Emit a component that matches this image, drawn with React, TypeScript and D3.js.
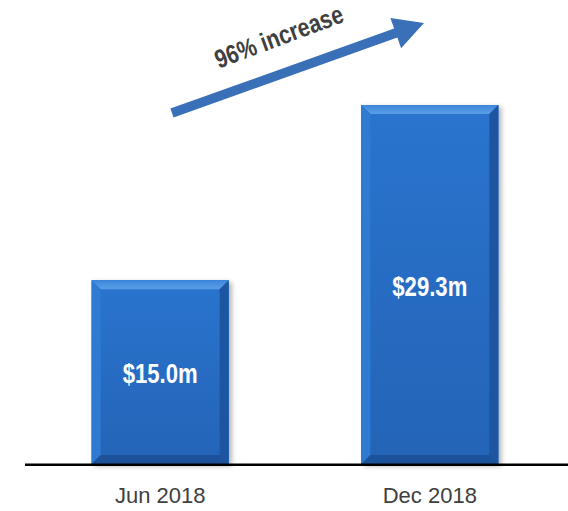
import React from "react";
import * as d3 from "d3";

// Period labels and values (in $m)
const categories = ["Jun 2018", "Dec 2018"];
const values = [15.0, 29.3];
const valueLabels = ["$15.0m", "$29.3m"];
const growthLabel = "96% increase";

const W = 568;
const H = 511;
const baseline = 464;
const FONT = "'Liberation Sans', Arial, sans-serif";

export default function App() {
  const x = d3
    .scaleBand<string>()
    .domain(categories)
    .range([24, 566])
    .paddingInner(0.49)
    .paddingOuter(0.25);

  const barW = 137;
  const centerOf = (c: string) => (x(c) as number) + x.bandwidth() / 2;

  const y = d3.scaleLinear().domain([0, 32]).range([baseline, baseline - 392]);

  const bevel = 9;

  // growth arrow geometry
  const ax0 = 172, ay0 = 113, ax1 = 424, ay1 = 23;
  const ang = Math.atan2(ay1 - ay0, ax1 - ax0);
  const len = Math.hypot(ax1 - ax0, ay1 - ay0);
  const shaft = 9.5;
  const headLen = 30;
  const headHalf = 16;

  return (
    <svg width={W} height={H} style={{ position: "absolute", left: 0, top: 0 }}>
      <defs>
        <linearGradient id="face" x1="0" y1="0" x2="0" y2="1">
          <stop offset="0" stopColor="#2a74cf" />
          <stop offset="1" stopColor="#2364b6" />
        </linearGradient>
        <linearGradient id="topBevel" x1="0" y1="0" x2="0" y2="1">
          <stop offset="0" stopColor="#3d87dc" />
          <stop offset="1" stopColor="#5a9ee6" />
        </linearGradient>
        <filter id="shadow" x="-10%" y="-10%" width="130%" height="130%">
          <feDropShadow dx="3" dy="2" stdDeviation="2.5" floodColor="#000" floodOpacity="0.3" />
        </filter>
      </defs>

      {values.map((v, i) => {
        const cx = centerOf(categories[i]);
        const x0 = cx - barW / 2;
        const x1 = cx + barW / 2;
        const y0 = y(v);
        const y1 = y(0);
        return (
          <g key={categories[i]}>
            <rect x={x0} y={y0} width={barW} height={y1 - y0} fill="#2468bd" filter="url(#shadow)" />
            <rect x={x0} y={y0} width={barW} height={y1 - y0} fill="url(#face)" />
            {/* top bevel */}
            <polygon
              points={`${x0},${y0} ${x1},${y0} ${x1 - bevel},${y0 + bevel} ${x0 + bevel},${y0 + bevel}`}
              fill="url(#topBevel)"
            />
            {/* left bevel */}
            <polygon
              points={`${x0},${y0} ${x0 + bevel},${y0 + bevel} ${x0 + bevel},${y1 - bevel} ${x0},${y1}`}
              fill="#2f7ad3"
            />
            {/* right bevel */}
            <polygon
              points={`${x1},${y0} ${x1},${y1} ${x1 - bevel},${y1 - bevel} ${x1 - bevel},${y0 + bevel}`}
              fill="#1d55a0"
            />
            {/* bottom bevel */}
            <polygon
              points={`${x0},${y1} ${x1},${y1} ${x1 - bevel},${y1 - bevel} ${x0 + bevel},${y1 - bevel}`}
              fill="#1c5299"
            />
            <text
              transform={`translate(${cx},${(y0 + y1) / 2 + 11}) scale(0.82,1)`}
              textAnchor="middle"
              fill="#ffffff"
              fontFamily={FONT}
              fontWeight="bold"
              fontSize={27}
            >
              {valueLabels[i]}
            </text>
            <text
              x={cx}
              y={503}
              textAnchor="middle"
              fill="#404040"
              fontFamily={FONT}
              fontSize={22}
            >
              {categories[i]}
            </text>
          </g>
        );
      })}

      {/* baseline */}
      <line x1={25} x2={568} y1={464.8} y2={464.8} stroke="#000" strokeWidth={2.5} />

      {/* growth arrow */}
      <g transform={`translate(${ax0},${ay0}) rotate(${(ang * 180) / Math.PI})`}>
        <polygon
          points={`0,${-shaft / 2} ${len - headLen},${-shaft / 2} ${len - headLen},${-headHalf} ${len},0 ${len - headLen},${headHalf} ${len - headLen},${shaft / 2} 0,${shaft / 2}`}
          fill="#3a70b8"
        />
      </g>
      <text
        transform={`translate(282,45) rotate(-20.5) scale(0.82,1)`}
        textAnchor="middle"
        fill="#404040"
        fontFamily={FONT}
        fontWeight="bold"
        fontSize={26}
      >
        {growthLabel}
      </text>
    </svg>
  );
}
